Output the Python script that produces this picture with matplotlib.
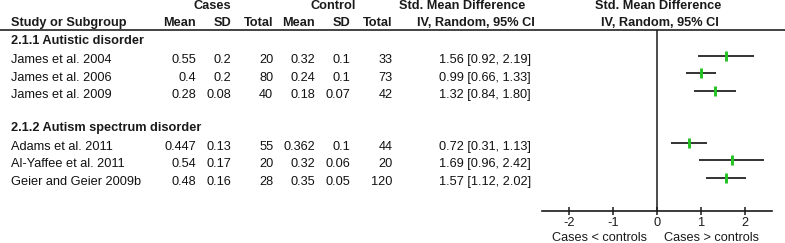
import matplotlib
matplotlib.use("Agg")
import matplotlib.pyplot as plt

plt.rcParams['font.family'] = ['Liberation Sans', 'DejaVu Sans']

# ---- data ----
groups = ["2.1.1 Autistic disorder", "2.1.2 Autism spectrum disorder"]
studies = ["James et al. 2004", "James et al. 2006", "James et al. 2009",
           "Adams et al. 2011", "Al-Yaffee et al. 2011", "Geier and Geier 2009b"]
study_group = [0, 0, 0, 1, 1, 1]
cases_mean = ["0.55", "0.4", "0.28", "0.447", "0.54", "0.48"]
cases_sd = ["0.2", "0.2", "0.08", "0.13", "0.17", "0.16"]
cases_n = [20, 80, 40, 55, 20, 28]
ctrl_mean = ["0.32", "0.24", "0.18", "0.362", "0.32", "0.35"]
ctrl_sd = ["0.1", "0.1", "0.07", "0.1", "0.06", "0.05"]
ctrl_n = [33, 73, 42, 44, 20, 120]
smd = [1.56, 0.99, 1.32, 0.72, 1.69, 1.57]
ci_lo = [0.92, 0.66, 0.84, 0.31, 0.96, 1.12]
ci_hi = [2.19, 1.33, 1.80, 1.13, 2.42, 2.02]
xticks = [-2, -1, 0, 1, 2]

# ---- layout (pixels) ----
W, H = 785, 243
FS = 9.2
row_y = [56, 73.5, 91, 142.5, 160, 177.5]
group_y = [41.5, 128]
text_dy = 4
col_x = [196, 231.3, 273.3, 315, 350.7, 392.7]
smd_x = 531
axis_y = 210.7
header_line_y = 30
x_left, x_right = 542.3, 771.7

fig = plt.figure(figsize=(W / 100, H / 100), dpi=100)
ax = fig.add_axes([0, 0, 1, 1])
ax.set_xlim(0, W)
ax.set_ylim(H, 0)
ax.axis('off')

# headers
bold = dict(fontweight='bold', fontsize=FS, color='#1a1a1a', va='center')
ax.text(212.3, 6, "Cases", ha='center', **bold)
ax.text(333, 6, "Control", ha='center', **bold)
ax.text(462.5, 6, "Std. Mean Difference", ha='center', **bold)
ax.text(658, 6, "Std. Mean Difference", ha='center', **bold)
ax.text(11, 23.3, "Study or Subgroup", ha='left', **bold)
for x, lab in zip(col_x, ["Mean", "SD", "Total", "Mean", "SD", "Total"]):
    ax.text(x, 23.3, lab, ha='right', **bold)
ax.text(476, 23.3, "IV, Random, 95% CI", ha='center', **bold)
ax.text(660, 23.3, "IV, Random, 95% CI", ha='center', **bold)
ax.plot([0, W], [header_line_y, header_line_y], color='#222222', lw=1.2,
        solid_capstyle='butt')

for g, gy in zip(groups, group_y):
    ax.text(11, gy, g, ha='left', **bold)

reg = dict(fontsize=FS, color='#111111', va='center')
for i, name in enumerate(studies):
    ty = row_y[i] + text_dy
    ax.text(11, ty, name, ha='left', **reg)
    vals = [cases_mean[i], cases_sd[i], str(cases_n[i]),
            ctrl_mean[i], ctrl_sd[i], str(ctrl_n[i])]
    for x, v in zip(col_x, vals):
        ax.text(x, ty, v, ha='right', **reg)
    ax.text(smd_x, ty, f"{smd[i]:.2f} [{ci_lo[i]:.2f}, {ci_hi[i]:.2f}]",
            ha='right', **reg)

# forest axes
fax = fig.add_axes([x_left / W, (H - axis_y) / H,
                    (x_right - x_left) / W, (axis_y - header_line_y) / H])
fax.set_xlim(-2.6, 2.6)
fax.set_ylim(axis_y, header_line_y)
fax.patch.set_alpha(0)
for s in ['top', 'left', 'right']:
    fax.spines[s].set_visible(False)
fax.spines['bottom'].set_linewidth(1.2)
fax.spines['bottom'].set_color('#1a1a1a')
fax.set_yticks([])
fax.set_xticks(xticks)
fax.set_xticklabels([str(t) for t in xticks])
fax.tick_params(axis='x', direction='inout', length=6, width=1.1,
                labelsize=FS, pad=1.5, colors='#1a1a1a')
fax.axvline(0, color='#1a1a1a', lw=1.1)

for i in range(len(studies)):
    fax.plot([ci_lo[i], ci_hi[i]], [row_y[i], row_y[i]], color='#333333',
             lw=1.4, solid_capstyle='butt')
    fax.plot([smd[i]], [row_y[i]], marker='|', ms=7, mew=2.1,
             color='#22c322', linestyle='none')

fax.text(-0.23, 238.3, "Cases < controls", ha='right', va='center',
         fontsize=FS, color='#1a1a1a', clip_on=False)
fax.text(0.16, 238.3, "Cases > controls", ha='left', va='center',
         fontsize=FS, color='#1a1a1a', clip_on=False)

fig.savefig("out.png", dpi=100)
